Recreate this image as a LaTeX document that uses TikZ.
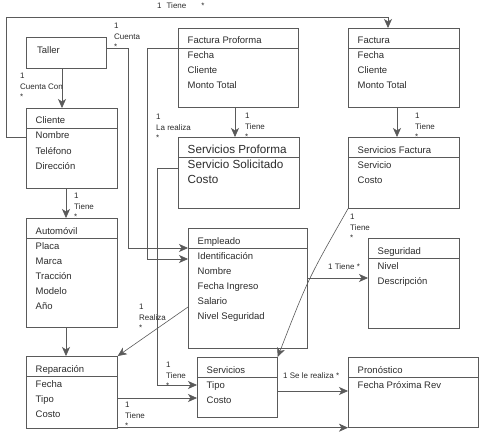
\documentclass[tikz,border=0pt]{standalone}
\usepackage{fontspec}
\setmainfont{Liberation Sans}
\usepackage{tikz}
\usetikzlibrary{calc,arrows.meta}
\definecolor{ink}{HTML}{2B2B2B}
\definecolor{edge}{HTML}{5A5A5A}
\tikzset{
  cls/.style={draw=edge, line width=0.7pt, anchor=north west, inner sep=0pt},
  sep/.style={draw=edge, line width=0.7pt},
  attr/.style={anchor=base west, inner sep=0pt, text=ink, font=\fontsize{9.5}{11}\selectfont},
  big/.style={font=\fontsize{11.7}{14}\selectfont},
  mult/.style={anchor=north west, inner sep=0pt, align=left, text=ink, font=\fontsize{8}{10.5}\selectfont},
  link/.style={draw=edge, line width=0.6pt, -{Stealth[length=9pt,width=8pt,inset=2.5pt]}},
}
% class box: [text style] name, corner, width, height, title, attributes
\newcommand{\umlclass}[7][]{%
  \node[cls, minimum width=#4pt, minimum height=#5pt] (#2) at (#3) {};
  \draw[sep] ($(#2.north west)+(0,20)$) -- ($(#2.north east)+(0,20)$);
  \node[attr,#1] (#2-0) at ($(#2.north west)+(9.5,16)$) {#6};
  \foreach \a [count=\i] in {#7}
    \node[attr,#1] (#2-\i) at ($(#2.north west)+(9.5,16+15*\i)$) {\a};
}
\begin{document}
\begin{tikzpicture}[x=1pt, y=-1pt]
  \useasboundingbox (0,0) rectangle (484,433);
  % classes
  \node[cls, minimum width=80pt, minimum height=31pt] (taller) at (26,37) {};
  \node[attr] (taller-0) at ($(taller.north west)+(11,16.5)$) {Taller};
  \umlclass{cliente}{26,108}{91}{80}{Cliente}{Nombre,Teléfono,Dirección}
  \umlclass{automovil}{26,218}{91}{109}{Automóvil}{Placa,Marca,Tracción,Modelo,Año}
  \umlclass{reparacion}{26,356}{91}{72}{Reparación}{Fecha,Tipo,Costo}
  \umlclass{empleado}{188,228}{119}{120}{Empleado}{Identificación,Nombre,Fecha Ingreso,Salario,Nivel Seguridad}
  \umlclass{servicios}{197,357}{80}{60}{Servicios}{Tipo,Costo}
  \umlclass{pronostico}{348,357}{130}{70}{Pronóstico}{Fecha Próxima Rev}
  \umlclass{seguridad}{368,238}{91}{90}{Seguridad}{Nivel,Descripción}
  \umlclass{fproforma}{178,28}{120}{79}{Factura Proforma}{Fecha,Cliente,Monto Total}
  \umlclass[big]{sproforma}{178,137}{121}{71}{Servicios Proforma}{Servicio Solicitado,Costo}
  \umlclass{factura}{348,28}{111}{79}{Factura}{Fecha,Cliente,Monto Total}
  \umlclass{sfactura}{348,137}{111}{71}{Servicios Factura}{Servicio,Costo}

  % associations
  \draw[link] ($(taller.south west)+(36,0)$) -- ($(cliente.north west)+(36,0)$);
  \coordinate (loopnw) at (6,17);
  \draw[link] ($(cliente.north west)+(0,29)$) -| (loopnw) -| ($(factura.north west)+(40,0)$);
  \draw[link] ($(taller.north east)+(0,11)$) -| ($(empleado.north west)+(-60,20)$) -- ($(empleado.north west)+(0,20)$);
  \draw[link] ($(fproforma.north west)+(0,20)$) -| ($(empleado.north west)+(-41,31)$) -- ($(empleado.north west)+(0,31)$);
  \draw[link] ($(fproforma.south west)+(57,0)$) -- ($(sproforma.north west)+(57,0)$);
  \draw[link] ($(sproforma.north west)+(0,31)$) -| ($(servicios.north west)+(-40,28)$) -- ($(servicios.north west)+(0,28)$);
  \draw[link] ($(factura.south west)+(49,0)$) -- ($(sfactura.north west)+(49,0)$);
  \draw[link] ($(cliente.south west)+(40,0)$) -- ($(automovil.north west)+(40,0)$);
  \draw[link] ($(automovil.south west)+(40,0)$) -- ($(reparacion.north west)+(40,0)$);
  \draw[link] ($(empleado.north west)+(0,79)$) -- (reparacion.north east);
  \coordinate (emps) at ($(empleado.north east)+(0,50)$);
  \draw[link] (emps) -- (emps -| seguridad.west);
  \draw[link] (sfactura.south west) .. controls (308,279) .. (servicios.north east);
  \coordinate (rep1) at ($(reparacion.north east)+(0,42)$);
  \draw[link] (rep1) -- (rep1 -| servicios.west);
  \coordinate (rep2) at ($(reparacion.south east)+(0,-1)$);
  \draw[link] (rep2) -- (rep2 -| pronostico.west);
  \coordinate (serv1) at ($(servicios.north east)+(0,34)$);
  \draw[link] (serv1) -- (serv1 -| pronostico.west);

  % multiplicities
  \node[mult] (lcuentacon) at (20,73) {1\\Cuenta Con\\*};
  \node[mult] (ltiene) at (157,3) {1\hspace{5pt}Tiene\hspace{15pt}*};
  \node[mult] (lcuenta) at (114,23) {1\\Cuenta\\*};
  \node[mult] (lrealiza) at (156,114) {1\\La realiza\\*};
  \node[mult] (ltieneproforma) at (245,113) {1\\Tiene\\*};
  \node[mult] (ltienefactura) at (415,113) {1\\Tiene\\*};
  \node[mult] (ltieneauto) at (74,193) {1\\Tiene\\*};
  \node[mult] (ltieneserv) at (350,214) {1\\Tiene\\*};
  \node[mult] (ltieneseg) at (328,264) {1 Tiene *};
  \node[mult] (lrealizarep) at (139,304) {1\\Realiza\\*};
  \node[mult] (ltienetipo) at (166,362) {1\\Tiene\\*};
  \node[mult] (lsele) at (283,372) {1 Se le realiza *};
  \node[mult] (ltienepron) at (125,402) {1\\Tiene\\*};
\end{tikzpicture}
\end{document}
